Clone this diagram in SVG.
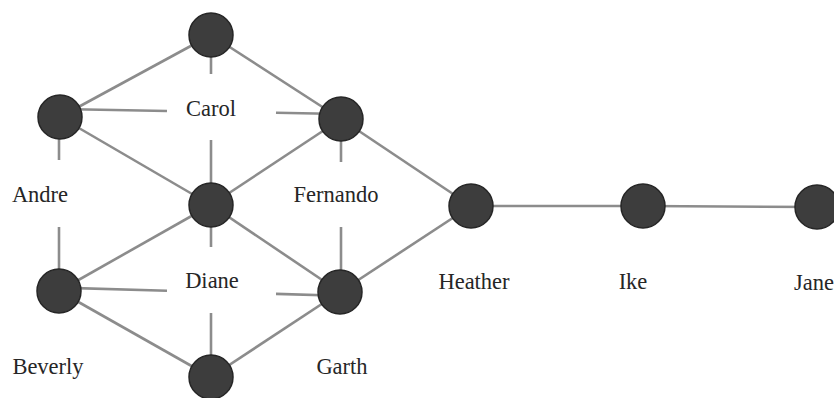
<svg xmlns="http://www.w3.org/2000/svg" width="834" height="398" viewBox="0 0 834 398">
<style>
.e{stroke:#8c8c8c;stroke-width:2.6;fill:none;stroke-linecap:butt}
.n{fill:#3d3d3d;stroke:#262626;stroke-width:1.5}
.t{font-family:"Liberation Serif","Times New Roman",serif;font-size:22.5px;fill:#262626;text-anchor:middle}
</style>
<rect width="834" height="398" fill="#ffffff"/>
<g id="connectors">
<line class="e" x1="211" y1="35" x2="60" y2="117"/>
<line class="e" x1="211" y1="35" x2="341" y2="119"/>
<line class="e" x1="211" y1="35" x2="211" y2="74"/>
<line class="e" x1="211" y1="140" x2="211" y2="205"/>
<line class="e" x1="60" y1="109" x2="167" y2="111"/>
<line class="e" x1="276" y1="112.8" x2="341" y2="114"/>
<line class="e" x1="60" y1="117" x2="211" y2="205"/>
<line class="e" x1="59" y1="117" x2="59" y2="160"/>
<line class="e" x1="59" y1="227" x2="59" y2="291"/>
<line class="e" x1="341" y1="119" x2="341" y2="162"/>
<line class="e" x1="341" y1="227" x2="341" y2="292"/>
<line class="e" x1="211" y1="205" x2="341" y2="119"/>
<line class="e" x1="341" y1="119" x2="471" y2="206"/>
<line class="e" x1="211" y1="205" x2="59" y2="291"/>
<line class="e" x1="211" y1="205" x2="340" y2="292"/>
<line class="e" x1="211" y1="205" x2="211" y2="247"/>
<line class="e" x1="211" y1="313" x2="211" y2="377"/>
<line class="e" x1="59" y1="287.6" x2="167" y2="290.7"/>
<line class="e" x1="276" y1="293.9" x2="340" y2="295.8"/>
<line class="e" x1="59" y1="291" x2="211" y2="377"/>
<line class="e" x1="211" y1="377" x2="340" y2="292"/>
<line class="e" x1="340" y1="292" x2="471" y2="206"/>
<line class="e" x1="471" y1="206" x2="643" y2="206"/>
<line class="e" x1="643" y1="206" x2="817" y2="207"/>
</g>
<g id="carol"><circle class="n" cx="211" cy="35" r="22"/><text class="t" x="211" y="116">Carol</text></g>
<g id="andre"><circle class="n" cx="60" cy="117" r="22"/><text class="t" x="40" y="202">Andre</text></g>
<g id="fernando"><circle class="n" cx="341" cy="119" r="22"/><text class="t" x="336" y="202">Fernando</text></g>
<g id="diane"><circle class="n" cx="211" cy="205" r="22"/><text class="t" x="212" y="288">Diane</text></g>
<g id="beverly"><circle class="n" cx="59" cy="291" r="22"/><text class="t" x="48" y="374">Beverly</text></g>
<g id="garth"><circle class="n" cx="340" cy="292" r="22"/><text class="t" x="342" y="374">Garth</text></g>
<g id="ed"><circle class="n" cx="211" cy="377" r="22"/></g>
<g id="heather"><circle class="n" cx="471" cy="206" r="22"/><text class="t" x="474" y="289">Heather</text></g>
<g id="ike"><circle class="n" cx="643" cy="206" r="22"/><text class="t" x="633" y="289">Ike</text></g>
<g id="jane"><circle class="n" cx="817" cy="207" r="22"/><text class="t" x="814" y="290">Jane</text></g>
</svg>
